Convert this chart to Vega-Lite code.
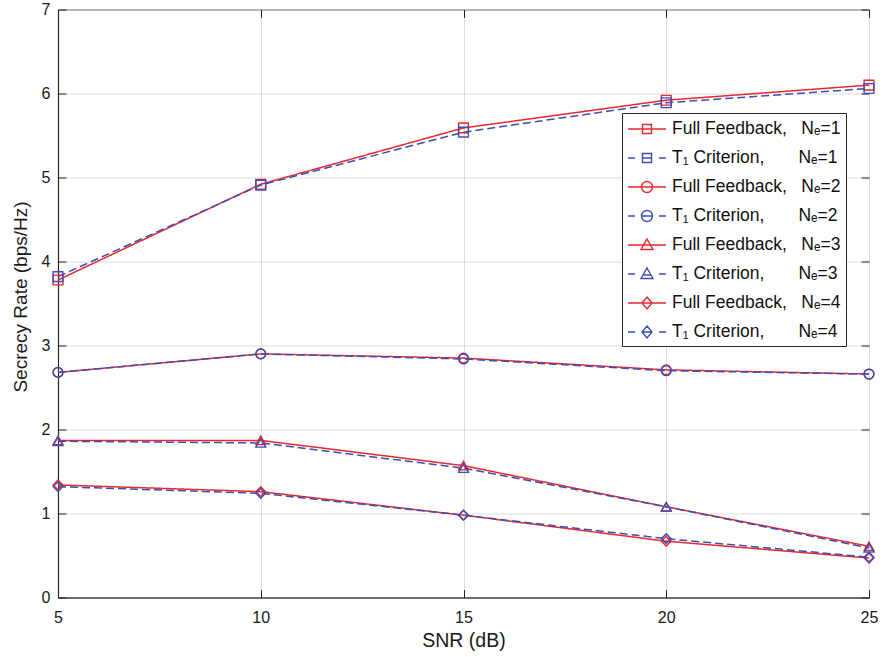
{
  "$schema": "https://vega.github.io/schema/vega-lite/v6.json",
  "width": 811,
  "height": 588,
  "autosize": {"type": "none"},
  "padding": {"left": 58, "top": 9.5, "right": 14, "bottom": 59.5},
  "background": "white",
  "config": {
    "font": "Liberation Sans",
    "view": {"stroke": "#262626", "strokeWidth": 1}
  },
  "datasets": {
    "d": [
      {"series": "Full Feedback,\u00a0\u00a0\u00a0Nₑ=1\u00a0\u00a0", "snr": 5, "rate": 3.78},
      {"series": "Full Feedback,\u00a0\u00a0\u00a0Nₑ=1\u00a0\u00a0", "snr": 10, "rate": 4.92},
      {"series": "Full Feedback,\u00a0\u00a0\u00a0Nₑ=1\u00a0\u00a0", "snr": 15, "rate": 5.59},
      {"series": "Full Feedback,\u00a0\u00a0\u00a0Nₑ=1\u00a0\u00a0", "snr": 20, "rate": 5.92},
      {"series": "Full Feedback,\u00a0\u00a0\u00a0Nₑ=1\u00a0\u00a0", "snr": 25, "rate": 6.10},
      {"series": "T₁ Criterion,\u00a0\u00a0\u00a0\u00a0\u00a0\u00a0\u00a0Nₑ=1\u00a0\u00a0", "snr": 5, "rate": 3.82},
      {"series": "T₁ Criterion,\u00a0\u00a0\u00a0\u00a0\u00a0\u00a0\u00a0Nₑ=1\u00a0\u00a0", "snr": 10, "rate": 4.91},
      {"series": "T₁ Criterion,\u00a0\u00a0\u00a0\u00a0\u00a0\u00a0\u00a0Nₑ=1\u00a0\u00a0", "snr": 15, "rate": 5.54},
      {"series": "T₁ Criterion,\u00a0\u00a0\u00a0\u00a0\u00a0\u00a0\u00a0Nₑ=1\u00a0\u00a0", "snr": 20, "rate": 5.89},
      {"series": "T₁ Criterion,\u00a0\u00a0\u00a0\u00a0\u00a0\u00a0\u00a0Nₑ=1\u00a0\u00a0", "snr": 25, "rate": 6.06},
      {"series": "Full Feedback,\u00a0\u00a0\u00a0Nₑ=2\u00a0\u00a0", "snr": 5, "rate": 2.68},
      {"series": "Full Feedback,\u00a0\u00a0\u00a0Nₑ=2\u00a0\u00a0", "snr": 10, "rate": 2.90},
      {"series": "Full Feedback,\u00a0\u00a0\u00a0Nₑ=2\u00a0\u00a0", "snr": 15, "rate": 2.85},
      {"series": "Full Feedback,\u00a0\u00a0\u00a0Nₑ=2\u00a0\u00a0", "snr": 20, "rate": 2.71},
      {"series": "Full Feedback,\u00a0\u00a0\u00a0Nₑ=2\u00a0\u00a0", "snr": 25, "rate": 2.66},
      {"series": "T₁ Criterion,\u00a0\u00a0\u00a0\u00a0\u00a0\u00a0\u00a0Nₑ=2\u00a0\u00a0", "snr": 5, "rate": 2.68},
      {"series": "T₁ Criterion,\u00a0\u00a0\u00a0\u00a0\u00a0\u00a0\u00a0Nₑ=2\u00a0\u00a0", "snr": 10, "rate": 2.90},
      {"series": "T₁ Criterion,\u00a0\u00a0\u00a0\u00a0\u00a0\u00a0\u00a0Nₑ=2\u00a0\u00a0", "snr": 15, "rate": 2.84},
      {"series": "T₁ Criterion,\u00a0\u00a0\u00a0\u00a0\u00a0\u00a0\u00a0Nₑ=2\u00a0\u00a0", "snr": 20, "rate": 2.70},
      {"series": "T₁ Criterion,\u00a0\u00a0\u00a0\u00a0\u00a0\u00a0\u00a0Nₑ=2\u00a0\u00a0", "snr": 25, "rate": 2.66},
      {"series": "Full Feedback,\u00a0\u00a0\u00a0Nₑ=3\u00a0\u00a0", "snr": 5, "rate": 1.87},
      {"series": "Full Feedback,\u00a0\u00a0\u00a0Nₑ=3\u00a0\u00a0", "snr": 10, "rate": 1.87},
      {"series": "Full Feedback,\u00a0\u00a0\u00a0Nₑ=3\u00a0\u00a0", "snr": 15, "rate": 1.57},
      {"series": "Full Feedback,\u00a0\u00a0\u00a0Nₑ=3\u00a0\u00a0", "snr": 20, "rate": 1.08},
      {"series": "Full Feedback,\u00a0\u00a0\u00a0Nₑ=3\u00a0\u00a0", "snr": 25, "rate": 0.61},
      {"series": "T₁ Criterion,\u00a0\u00a0\u00a0\u00a0\u00a0\u00a0\u00a0Nₑ=3\u00a0\u00a0", "snr": 5, "rate": 1.86},
      {"series": "T₁ Criterion,\u00a0\u00a0\u00a0\u00a0\u00a0\u00a0\u00a0Nₑ=3\u00a0\u00a0", "snr": 10, "rate": 1.84},
      {"series": "T₁ Criterion,\u00a0\u00a0\u00a0\u00a0\u00a0\u00a0\u00a0Nₑ=3\u00a0\u00a0", "snr": 15, "rate": 1.54},
      {"series": "T₁ Criterion,\u00a0\u00a0\u00a0\u00a0\u00a0\u00a0\u00a0Nₑ=3\u00a0\u00a0", "snr": 20, "rate": 1.08},
      {"series": "T₁ Criterion,\u00a0\u00a0\u00a0\u00a0\u00a0\u00a0\u00a0Nₑ=3\u00a0\u00a0", "snr": 25, "rate": 0.59},
      {"series": "Full Feedback,\u00a0\u00a0\u00a0Nₑ=4\u00a0\u00a0", "snr": 5, "rate": 1.34},
      {"series": "Full Feedback,\u00a0\u00a0\u00a0Nₑ=4\u00a0\u00a0", "snr": 10, "rate": 1.26},
      {"series": "Full Feedback,\u00a0\u00a0\u00a0Nₑ=4\u00a0\u00a0", "snr": 15, "rate": 0.98},
      {"series": "Full Feedback,\u00a0\u00a0\u00a0Nₑ=4\u00a0\u00a0", "snr": 20, "rate": 0.67},
      {"series": "Full Feedback,\u00a0\u00a0\u00a0Nₑ=4\u00a0\u00a0", "snr": 25, "rate": 0.47},
      {"series": "T₁ Criterion,\u00a0\u00a0\u00a0\u00a0\u00a0\u00a0\u00a0Nₑ=4\u00a0\u00a0", "snr": 5, "rate": 1.32},
      {"series": "T₁ Criterion,\u00a0\u00a0\u00a0\u00a0\u00a0\u00a0\u00a0Nₑ=4\u00a0\u00a0", "snr": 10, "rate": 1.24},
      {"series": "T₁ Criterion,\u00a0\u00a0\u00a0\u00a0\u00a0\u00a0\u00a0Nₑ=4\u00a0\u00a0", "snr": 15, "rate": 0.98},
      {"series": "T₁ Criterion,\u00a0\u00a0\u00a0\u00a0\u00a0\u00a0\u00a0Nₑ=4\u00a0\u00a0", "snr": 20, "rate": 0.70},
      {"series": "T₁ Criterion,\u00a0\u00a0\u00a0\u00a0\u00a0\u00a0\u00a0Nₑ=4\u00a0\u00a0", "snr": 25, "rate": 0.48}
    ]
  },
  "data": {"name": "d"},
  "layer": [
    {
      "mark": {"type": "line", "strokeWidth": 1.5},
      "encoding": {
        "x": {
          "field": "snr", "type": "quantitative",
          "scale": {"domain": [5, 25], "nice": false, "zero": false},
          "axis": {
            "orient": "bottom", "values": [5, 10, 15, 20, 25],
            "title": "SNR (dB)", "titleFontSize": 19.5, "titleFontWeight": "normal", "titleColor": "#1a1a1a",
            "titleX": 405.5, "titleY": 49, "titleBaseline": "alphabetic", "titleAlign": "center",
            "labelFontSize": 16, "labelColor": "#1a1a1a", "labelPadding": 20,
            "tickSize": -8, "tickColor": "#262626", "tickWidth": 1,
            "domainColor": "#262626", "domainWidth": 1.2,
            "grid": true, "gridColor": "#dcdcdc", "gridWidth": 1, "labelFlush": false
          }
        },
        "y": {
          "field": "rate", "type": "quantitative",
          "scale": {"domain": [0, 7], "nice": false},
          "axis": {
            "orient": "left", "values": [0, 1, 2, 3, 4, 5, 6, 7],
            "title": "Secrecy Rate (bps/Hz)", "titleFontSize": 19, "titleFontWeight": "normal", "titleColor": "#1a1a1a",
            "titleX": -38, "titleY": 287, "titleBaseline": "middle", "titleAlign": "center", "titleAngle": -90,
            "labelFontSize": 16, "labelColor": "#1a1a1a", "labelPadding": 16,
            "tickSize": -8, "tickColor": "#262626", "tickWidth": 1,
            "domainColor": "#262626", "domainWidth": 1.2,
            "grid": true, "gridColor": "#dcdcdc", "gridWidth": 1, "labelFlush": false
          }
        },
        "color": {
          "field": "series", "type": "nominal",
          "scale": {
            "domain": ["Full Feedback,\u00a0\u00a0\u00a0Nₑ=1\u00a0\u00a0", "T₁ Criterion,\u00a0\u00a0\u00a0\u00a0\u00a0\u00a0\u00a0Nₑ=1\u00a0\u00a0", "Full Feedback,\u00a0\u00a0\u00a0Nₑ=2\u00a0\u00a0", "T₁ Criterion,\u00a0\u00a0\u00a0\u00a0\u00a0\u00a0\u00a0Nₑ=2\u00a0\u00a0", "Full Feedback,\u00a0\u00a0\u00a0Nₑ=3\u00a0\u00a0", "T₁ Criterion,\u00a0\u00a0\u00a0\u00a0\u00a0\u00a0\u00a0Nₑ=3\u00a0\u00a0", "Full Feedback,\u00a0\u00a0\u00a0Nₑ=4\u00a0\u00a0", "T₁ Criterion,\u00a0\u00a0\u00a0\u00a0\u00a0\u00a0\u00a0Nₑ=4\u00a0\u00a0"],
            "range": ["#e8282c", "#3d4db5", "#e8282c", "#3d4db5", "#e8282c", "#3d4db5", "#e8282c", "#3d4db5"]
          },
          "legend": null
        },
        "strokeDash": {
          "field": "series", "type": "nominal",
          "scale": {
            "domain": ["Full Feedback,\u00a0\u00a0\u00a0Nₑ=1\u00a0\u00a0", "T₁ Criterion,\u00a0\u00a0\u00a0\u00a0\u00a0\u00a0\u00a0Nₑ=1\u00a0\u00a0", "Full Feedback,\u00a0\u00a0\u00a0Nₑ=2\u00a0\u00a0", "T₁ Criterion,\u00a0\u00a0\u00a0\u00a0\u00a0\u00a0\u00a0Nₑ=2\u00a0\u00a0", "Full Feedback,\u00a0\u00a0\u00a0Nₑ=3\u00a0\u00a0", "T₁ Criterion,\u00a0\u00a0\u00a0\u00a0\u00a0\u00a0\u00a0Nₑ=3\u00a0\u00a0", "Full Feedback,\u00a0\u00a0\u00a0Nₑ=4\u00a0\u00a0", "T₁ Criterion,\u00a0\u00a0\u00a0\u00a0\u00a0\u00a0\u00a0Nₑ=4\u00a0\u00a0"],
            "range": [[1, 0], [8, 4], [1, 0], [8, 4], [1, 0], [8, 4], [1, 0], [8, 4]]
          },
          "legend": null
        }
      }
    },
    {
      "mark": {"type": "point", "filled": false, "size": 95, "strokeWidth": 1.4, "opacity": 1},
      "encoding": {
        "x": {
          "field": "snr", "type": "quantitative",
          "axis": {"orient": "top", "values": [5, 10, 15, 20, 25], "labels": false, "title": null, "grid": false, "domain": false, "tickSize": -8, "tickColor": "#262626"}
        },
        "y": {
          "field": "rate", "type": "quantitative",
          "axis": {"orient": "right", "values": [0, 1, 2, 3, 4, 5, 6, 7], "labels": false, "title": null, "grid": false, "domain": false, "tickSize": -8, "tickColor": "#262626"}
        },
        "color": {
          "field": "series", "type": "nominal",
          "scale": {
            "domain": ["Full Feedback,\u00a0\u00a0\u00a0Nₑ=1\u00a0\u00a0", "T₁ Criterion,\u00a0\u00a0\u00a0\u00a0\u00a0\u00a0\u00a0Nₑ=1\u00a0\u00a0", "Full Feedback,\u00a0\u00a0\u00a0Nₑ=2\u00a0\u00a0", "T₁ Criterion,\u00a0\u00a0\u00a0\u00a0\u00a0\u00a0\u00a0Nₑ=2\u00a0\u00a0", "Full Feedback,\u00a0\u00a0\u00a0Nₑ=3\u00a0\u00a0", "T₁ Criterion,\u00a0\u00a0\u00a0\u00a0\u00a0\u00a0\u00a0Nₑ=3\u00a0\u00a0", "Full Feedback,\u00a0\u00a0\u00a0Nₑ=4\u00a0\u00a0", "T₁ Criterion,\u00a0\u00a0\u00a0\u00a0\u00a0\u00a0\u00a0Nₑ=4\u00a0\u00a0"],
            "range": ["#e8282c", "#3d4db5", "#e8282c", "#3d4db5", "#e8282c", "#3d4db5", "#e8282c", "#3d4db5"]
          },
          "legend": null
        },
        "shape": {
          "field": "series", "type": "nominal",
          "scale": {
            "domain": ["Full Feedback,\u00a0\u00a0\u00a0Nₑ=1\u00a0\u00a0", "T₁ Criterion,\u00a0\u00a0\u00a0\u00a0\u00a0\u00a0\u00a0Nₑ=1\u00a0\u00a0", "Full Feedback,\u00a0\u00a0\u00a0Nₑ=2\u00a0\u00a0", "T₁ Criterion,\u00a0\u00a0\u00a0\u00a0\u00a0\u00a0\u00a0Nₑ=2\u00a0\u00a0", "Full Feedback,\u00a0\u00a0\u00a0Nₑ=3\u00a0\u00a0", "T₁ Criterion,\u00a0\u00a0\u00a0\u00a0\u00a0\u00a0\u00a0Nₑ=3\u00a0\u00a0", "Full Feedback,\u00a0\u00a0\u00a0Nₑ=4\u00a0\u00a0", "T₁ Criterion,\u00a0\u00a0\u00a0\u00a0\u00a0\u00a0\u00a0Nₑ=4\u00a0\u00a0"],
            "range": ["square", "square", "circle", "circle", "triangle-up", "triangle-up", "diamond", "diamond"]
          },
          "legend": null
        }
      }
    },
    {
      "transform": [{"filter": "datum.snr < 0"}],
      "mark": {"type": "point", "filled": false, "strokeWidth": 1.4},
      "encoding": {
        "x": {"field": "snr", "type": "quantitative", "axis": null},
        "y": {"field": "rate", "type": "quantitative", "axis": null},
        "color": {
          "field": "series", "type": "nominal",
          "scale": {
            "domain": ["Full Feedback,\u00a0\u00a0\u00a0Nₑ=1\u00a0\u00a0", "T₁ Criterion,\u00a0\u00a0\u00a0\u00a0\u00a0\u00a0\u00a0Nₑ=1\u00a0\u00a0", "Full Feedback,\u00a0\u00a0\u00a0Nₑ=2\u00a0\u00a0", "T₁ Criterion,\u00a0\u00a0\u00a0\u00a0\u00a0\u00a0\u00a0Nₑ=2\u00a0\u00a0", "Full Feedback,\u00a0\u00a0\u00a0Nₑ=3\u00a0\u00a0", "T₁ Criterion,\u00a0\u00a0\u00a0\u00a0\u00a0\u00a0\u00a0Nₑ=3\u00a0\u00a0", "Full Feedback,\u00a0\u00a0\u00a0Nₑ=4\u00a0\u00a0", "T₁ Criterion,\u00a0\u00a0\u00a0\u00a0\u00a0\u00a0\u00a0Nₑ=4\u00a0\u00a0"],
            "range": ["#e8282c", "#3d4db5", "#e8282c", "#3d4db5", "#e8282c", "#3d4db5", "#e8282c", "#3d4db5"]
          },
          "legend": {
            "title": null, "orient": "none", "legendX": 564, "legendY": 103.5,
            "fillColor": "white", "strokeColor": "#262626", "padding": 5,
            "symbolSize": 400, "symbolStrokeWidth": 1.4, "symbolFillColor": "transparent", "symbolOpacity": 1,
            "labelFont": "Liberation Sans", "labelFontSize": 17.5, "labelColor": "#111111", "labelLimit": 400,
            "rowPadding": 9, "symbolOffset": 9, "labelOffset": 14
          }
        },
        "shape": {
          "field": "series", "type": "nominal",
          "scale": {
            "domain": ["Full Feedback,\u00a0\u00a0\u00a0Nₑ=1\u00a0\u00a0", "T₁ Criterion,\u00a0\u00a0\u00a0\u00a0\u00a0\u00a0\u00a0Nₑ=1\u00a0\u00a0", "Full Feedback,\u00a0\u00a0\u00a0Nₑ=2\u00a0\u00a0", "T₁ Criterion,\u00a0\u00a0\u00a0\u00a0\u00a0\u00a0\u00a0Nₑ=2\u00a0\u00a0", "Full Feedback,\u00a0\u00a0\u00a0Nₑ=3\u00a0\u00a0", "T₁ Criterion,\u00a0\u00a0\u00a0\u00a0\u00a0\u00a0\u00a0Nₑ=3\u00a0\u00a0", "Full Feedback,\u00a0\u00a0\u00a0Nₑ=4\u00a0\u00a0", "T₁ Criterion,\u00a0\u00a0\u00a0\u00a0\u00a0\u00a0\u00a0Nₑ=4\u00a0\u00a0"],
            "range": [
              "M-1.9,0H1.9M-0.45,-0.45H0.45V0.45H-0.45Z",
              "M-1.9,0H-1.2M-0.45,0H0.45M1.2,0H1.9M-0.45,-0.45H0.45V0.45H-0.45Z",
              "M-1.9,0H1.9M0.55,0A0.55,0.55,0,1,1,-0.55,0A0.55,0.55,0,1,1,0.55,0Z",
              "M-1.9,0H-1.2M-0.55,0H0.55M1.2,0H1.9M0.55,0A0.55,0.55,0,1,1,-0.55,0A0.55,0.55,0,1,1,0.55,0Z",
              "M-1.9,0H1.9M0,-0.6L0.6,0.45L-0.6,0.45Z",
              "M-1.9,0H-1.2M-0.45,0.1H0.45M1.2,0H1.9M0,-0.6L0.6,0.45L-0.6,0.45Z",
              "M-1.9,0H1.9M0,-0.6L0.5,0L0,0.6L-0.5,0Z",
              "M-1.9,0H-1.2M-0.5,0H0.5M1.2,0H1.9M0,-0.6L0.5,0L0,0.6L-0.5,0Z"
            ]
          },
          "legend": {
            "title": null, "orient": "none", "legendX": 564, "legendY": 103.5,
            "fillColor": "white", "strokeColor": "#262626", "padding": 5,
            "symbolSize": 400, "symbolStrokeWidth": 1.4, "symbolFillColor": "transparent", "symbolOpacity": 1,
            "labelFont": "Liberation Sans", "labelFontSize": 17.5, "labelColor": "#111111", "labelLimit": 400,
            "rowPadding": 9, "symbolOffset": 9, "labelOffset": 14
          }
        }
      }
    }
  ],
  "resolve": {
    "scale": {"shape": "independent", "color": "independent"},
    "axis": {"x": "independent", "y": "independent"}
  }
}
